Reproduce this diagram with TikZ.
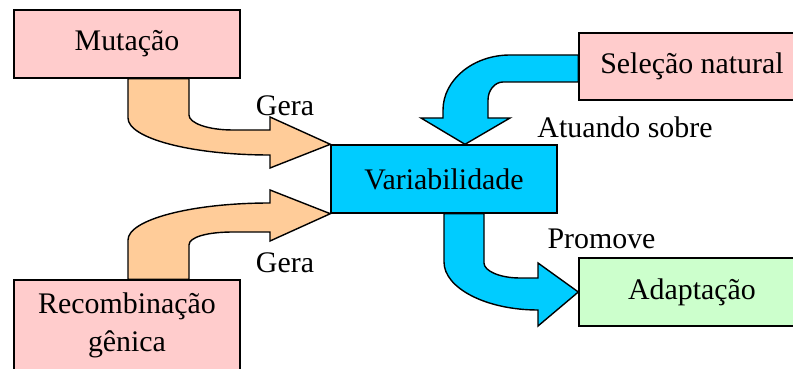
\documentclass[tikz,border=0pt]{standalone}
\usepackage{fontspec}
\setmainfont{Liberation Serif}
\definecolor{pinkbox}{HTML}{FFCCCC}
\definecolor{bluebox}{HTML}{00CCFF}
\definecolor{greenbox}{HTML}{CCFFCC}
\definecolor{orangearrow}{HTML}{FFCC99}
\begin{document}
\begin{tikzpicture}[
    box/.style={draw, line width=0.8pt, minimum width=4.52cm, minimum height=1.36cm,
                inner sep=0pt, align=center},
    blockarrow/.style={draw, line width=0.8pt, line join=miter},
    word/.style={inner sep=0pt}
  ]
  \useasboundingbox (0,0) rectangle (15.86,7.36);
  {\fontsize{17}{21.6}\selectfont

  % Boxes
  \node [box, fill=pinkbox] (mutacao) at (2.54,6.48) {Mutação};
  \node [box, fill=pinkbox, minimum height=1.80cm] (recomb) at (2.54,0.86) {Recombinação\\gênica};
  \node [box, fill=pinkbox, minimum height=1.34cm] (selecao) at (13.84,6.03) {Seleção natural};
  \node [box, fill=bluebox] (var) at (8.88,3.78) {Variabilidade};
  \node [box, fill=greenbox] (adapt) at (13.84,1.52) {Adaptação};

  % Drawing arrow mutacao -> var
  \draw [blockarrow, fill=orangearrow] (2.56,0 |- mutacao.south) -- (2.56,5.00)
        .. controls (2.56,4.60) and (3.80,4.26) .. (5.40,4.26) -- (5.40,4.00)
        -- (var.north west) -- (5.40,5.02) -- (5.40,4.76) -- (4.66,4.76)
        .. controls (4.15,4.76) and (3.78,4.90) .. (3.78,5.06)
        -- (3.78,0 |- mutacao.south) -- cycle;%

  % Drawing arrow recomb -> var
  \draw [blockarrow, fill=orangearrow] (2.56,0 |- recomb.north) -- (2.56,2.56)
        .. controls (2.56,2.96) and (3.80,3.30) .. (5.40,3.30) -- (5.40,3.56)
        -- (var.south west) -- (5.40,2.54) -- (5.40,2.72) -- (4.66,2.72)
        .. controls (4.15,2.72) and (3.78,2.62) .. (3.78,2.46)
        -- (3.78,0 |- recomb.north) -- cycle;%

  % Drawing arrow selecao -> var
  \draw [blockarrow, fill=bluebox] (selecao.west |- 0,6.26) -- (10.20,6.26)
        .. controls (9.46,6.26) and (8.86,5.76) .. (8.86,5.16) -- (8.86,5.00)
        -- (8.42,5.00) -- (9.30,0 |- var.north) -- (10.20,5.00) -- (9.76,5.00)
        -- (9.76,5.36) .. controls (9.76,5.56) and (9.90,5.72) .. (10.06,5.72)
        -- (selecao.west |- 0,5.72) -- cycle;%

  % Drawing arrow var -> adapt
  \draw [blockarrow, fill=bluebox] (var.south) -- (8.88,2.12)
        .. controls (8.88,1.60) and (9.72,1.16) .. (10.76,1.16) -- (10.76,0.84)
        -- (adapt.west) -- (10.76,2.10) -- (10.76,1.80) -- (10.40,1.80)
        .. controls (10.00,1.80) and (9.68,1.94) .. (9.68,2.10)
        -- (9.68,0 |- var.south) -- cycle;%

  % Arrow labels
  \node [word] (gera1) at (5.70,5.24) {Gera};
  \node [word] (gera2) at (5.70,2.10) {Gera};
  \node [word] (atuando) at (12.50,4.82) {Atuando sobre};
  \node [word] (promove) at (12.03,2.58) {Promove};
  }
\end{tikzpicture}
\end{document}
